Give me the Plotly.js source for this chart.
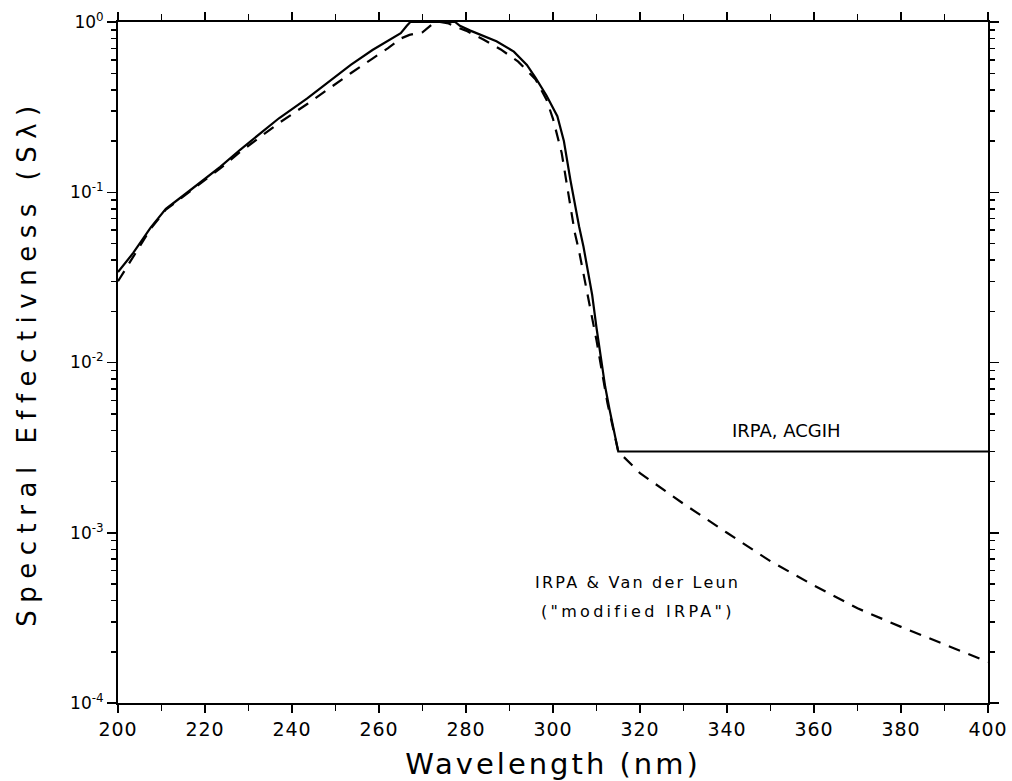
<!DOCTYPE html>
<html>
<head>
<meta charset="utf-8">
<script src="https://cdn.plot.ly/plotly-3.0.1.min.js"></script>
<style>
html,body{margin:0;padding:0;background:#fff;}
#chart{width:1012px;height:781px;}
#chart .xtitle{letter-spacing:3px;}
#chart .ytitle{letter-spacing:7.5px;}
#chart .xtick text{letter-spacing:1px;}
#chart .annotation[data-index="1"] text{letter-spacing:2.2px;}
#chart .annotation[data-index="2"] text{letter-spacing:3.3px;}
</style>
</head>
<body>
<div id="chart"></div>
<script>
// IRPA, ACGIH (solid)
const acgihWavelength = [200, 203.5, 207.5, 211, 216, 219, 223.5, 228, 237, 243.5, 248, 253.5, 258.5, 264, 265, 266.4, 267.2, 277.5, 278.6, 281, 284, 287, 291, 294, 296, 298.5, 301, 302.5, 304, 305, 306, 307, 308, 309, 310, 311, 312, 313, 314, 315, 320, 340, 360, 380, 400];
const acgihS = [0.034, 0.044, 0.062, 0.080, 0.100, 0.115, 0.141, 0.177, 0.272, 0.356, 0.436, 0.56, 0.685, 0.83, 0.86, 0.95, 1.0, 1.0, 0.95, 0.89, 0.83, 0.77, 0.67, 0.56, 0.47, 0.37, 0.28, 0.20, 0.118, 0.085, 0.063, 0.048, 0.035, 0.025, 0.016, 0.0108, 0.0072, 0.0053, 0.0040, 0.0030, 0.0030, 0.0030, 0.0030, 0.0030, 0.0030];

// IRPA & Van der Leun, "modified IRPA" (dashed)
const modWavelength = [200, 203.5, 207.5, 211, 216, 219, 223.5, 228, 237, 243.5, 248, 253.5, 258.5, 262, 265, 267, 270, 272, 274, 276, 278, 280, 284, 288, 292, 296, 298.5, 300, 302, 303, 304, 305, 306, 307, 308, 309, 310, 312.5, 315, 320, 330, 340, 350, 360, 370, 380, 390, 400];
const modS = [0.030, 0.042, 0.061, 0.079, 0.099, 0.113, 0.138, 0.172, 0.255, 0.33, 0.40, 0.50, 0.61, 0.70, 0.80, 0.84, 0.87, 0.96, 1.0, 0.98, 0.93, 0.89, 0.79, 0.69, 0.585, 0.46, 0.35, 0.27, 0.17, 0.12, 0.084, 0.058, 0.045, 0.033, 0.024, 0.018, 0.0135, 0.0058, 0.0030, 0.00224, 0.00148, 0.00100, 0.00068, 0.00049, 0.00036, 0.00028, 0.00022, 0.000174];

const yTickVals = [1e-4, 1e-3, 1e-2, 1e-1, 1];
const yTickText = ['10<sup>-4</sup>', '10<sup>-3</sup>', '10<sup>-2</sup>', '10<sup>-1</sup>', '10<sup>0</sup>'];
const yMinorVals = [];
[1e-4, 1e-3, 1e-2, 1e-1].forEach(d => { for (let k = 2; k <= 9; k++) yMinorVals.push(k * d); });

const annoTexts = ['IRPA, ACGIH', 'IRPA &amp; Van der Leun', '("modified IRPA")'];

const traces = [
  {x: acgihWavelength, y: acgihS, type: 'scatter', mode: 'lines', line: {color: '#000', width: 2.2}, hoverinfo: 'skip'},
  {x: modWavelength, y: modS, type: 'scatter', mode: 'lines', line: {color: '#000', width: 2.2, dash: '12px,9px'}, hoverinfo: 'skip'}
];

const layout = {
  width: 1012, height: 781,
  margin: {l: 118, r: 24, t: 22, b: 78},
  paper_bgcolor: '#fff', plot_bgcolor: '#fff',
  showlegend: false,
  font: {family: 'DejaVu Sans, sans-serif', color: '#000'},
  xaxis: {
    range: [200, 400], tickmode: 'linear', tick0: 200, dtick: 20,
    ticks: 'outside', ticklen: 8, tickwidth: 1.5, tickcolor: '#000',
    showline: true, linecolor: '#000', linewidth: 2, mirror: 'ticks',
    showgrid: false, zeroline: false,
    minor: {dtick: 10, ticks: 'outside', ticklen: 6, tickwidth: 1.5, tickcolor: '#000', showgrid: false},
    tickfont: {family: 'DejaVu Sans, sans-serif', size: 19, color: '#000'},
    title: {text: 'Wavelength (nm)', font: {family: 'DejaVu Sans, sans-serif', size: 29, color: '#000'}, standoff: 18}
  },
  yaxis: {
    type: 'log', range: [-4, 0],
    tickmode: 'array', tickvals: yTickVals, ticktext: yTickText,
    ticks: 'outside', ticklen: 9, tickwidth: 1.5, tickcolor: '#000',
    showline: true, linecolor: '#000', linewidth: 2, mirror: 'ticks',
    showgrid: false, zeroline: false,
    minor: {tickmode: 'array', tickvals: yMinorVals, ticks: 'outside', ticklen: 5, tickwidth: 1.5, tickcolor: '#000', showgrid: false},
    tickfont: {family: 'DejaVu Sans, sans-serif', size: 17, color: '#000'},
    title: {text: 'Spectral Effectivness (S\u03bb)', font: {family: 'DejaVu Sans, sans-serif', size: 26, color: '#000'}, standoff: 26}
  },
  annotations: [
    {x: 353.6, y: -2.40, xref: 'x', yref: 'y', text: annoTexts[0], showarrow: false, font: {family: 'DejaVu Sans, sans-serif', size: 18, color: '#000'}},
    {x: 319.5, y: -3.29, xref: 'x', yref: 'y', text: annoTexts[1], showarrow: false, font: {family: 'DejaVu Sans, sans-serif', size: 16, color: '#000'}},
    {x: 319.5, y: -3.465, xref: 'x', yref: 'y', text: annoTexts[2], showarrow: false, font: {family: 'DejaVu Sans, sans-serif', size: 16, color: '#000'}}
  ]
};

Plotly.newPlot('chart', traces, layout, {staticPlot: true, displayModeBar: false});
</script>
</body>
</html>
